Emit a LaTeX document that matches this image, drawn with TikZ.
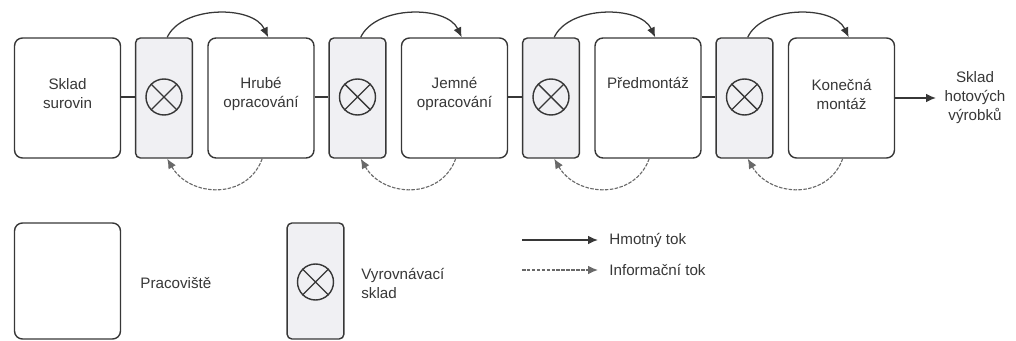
\documentclass[tikz,border=0pt]{standalone}
\usepackage{fontspec}
\setmainfont{Liberation Sans}
\usepackage{tikz}
\usetikzlibrary{arrows.meta,positioning,shapes.geometric}
\definecolor{linegray}{RGB}{55,55,55}
\definecolor{buffill}{RGB}{240,240,243}

\begin{document}
\begin{tikzpicture}[x=0.25cm, y=-0.25cm, line width=1pt, draw=linegray,
    every node/.style={font=\fontsize{10.8}{13.5}\selectfont, text=linegray},
    stage/.style={draw=linegray, rounded corners=0.2cm, minimum width=2.65cm, minimum height=3cm, inner sep=0pt},
    buffer/.style={draw=linegray, fill=buffill, rounded corners=0.12cm, minimum width=1.42cm, minimum height=3cm, inner sep=0pt},
    valve/.style={draw=linegray, circle, minimum size=0.9cm, inner sep=0pt},
    flow/.style={draw=linegray, line width=0.9pt, -{Latex[length=7pt, width=6pt]}},
    info/.style={draw=linegray!75, line width=0.8pt, dash pattern=on 2.5pt off 1pt, -{Latex[length=7pt, width=6pt]}}]
      \useasboundingbox (0, 0) rectangle (101.6, 34.1);

      % stations
      \node[stage] (suroviny) at (6.75, 9.8) {};
      \node[stage] (hrube) at (26.1, 9.8) {};
      \node[stage] (jemne) at (45.45, 9.8) {};
      \node[stage] (predmontaz) at (64.8, 9.8) {};
      \node[stage] (konecna) at (84.15, 9.8) {};

      \node[align=center] at (6.75, 9.4) {Sklad\\surovin};
      \node[align=center] at (26.1, 9.4) {Hrubé\\opracování};
      \node[align=center] at (45.45, 9.4) {Jemné\\opracování};
      \node at (64.8, 8.3) {Předmontáž};
      \node[align=center] at (84.15, 9.4) {Konečná\\montáž};

      % buffers
      \node[buffer] (buf1) at (16.4, 9.8) {};
      \node[buffer] (buf2) at (35.75, 9.8) {};
      \node[buffer] (buf3) at (55.1, 9.8) {};
      \node[buffer] (buf4) at (74.45, 9.8) {};

      \node[valve] (v1) at (16.4, 9.7) {};
      \node[valve] (v2) at (35.75, 9.7) {};
      \node[valve] (v3) at (55.1, 9.7) {};
      \node[valve] (v4) at (74.45, 9.7) {};
      \draw (v1.north west) -- (v1.south east) (v1.north east) -- (v1.south west);
      \draw (v2.north west) -- (v2.south east) (v2.north east) -- (v2.south west);
      \draw (v3.north west) -- (v3.south east) (v3.north east) -- (v3.south west);
      \draw (v4.north west) -- (v4.south east) (v4.north east) -- (v4.south west);

      \draw (suroviny.east |- v1) -- (buf1.west |- v1);
      \draw (hrube.east |- v2) -- (buf2.west |- v2);
      \draw (jemne.east |- v3) -- (buf3.west |- v3);
      \draw (predmontaz.east |- v4) -- (buf4.west |- v4);

      % material flow
      \draw[flow] ([xshift=0.08cm]buf1.north) to[out=65, in=115, looseness=0.9] ([xshift=0.18cm]hrube.north);
      \draw[flow] ([xshift=0.08cm]buf2.north) to[out=65, in=115, looseness=0.9] ([xshift=0.18cm]jemne.north);
      \draw[flow] ([xshift=0.08cm]buf3.north) to[out=65, in=115, looseness=0.9] ([xshift=0.18cm]predmontaz.north);
      \draw[flow] ([xshift=0.08cm]buf4.north) to[out=65, in=115, looseness=0.9] ([xshift=0.18cm]konecna.north);

      % information flow
      \draw[info] ([xshift=0.03cm]hrube.south) to[out=-110, in=-60, looseness=1.2] ([xshift=0.08cm]buf1.south);
      \draw[info] ([xshift=0.03cm]jemne.south) to[out=-110, in=-60, looseness=1.2] ([xshift=0.08cm]buf2.south);
      \draw[info] ([xshift=0.03cm]predmontaz.south) to[out=-110, in=-60, looseness=1.2] ([xshift=0.08cm]buf3.south);
      \draw[info] ([xshift=0.03cm]konecna.south) to[out=-110, in=-60, looseness=1.2] ([xshift=0.08cm]buf4.south);

      \node[align=center] (hotove) at (97.5, 9.8) {Sklad\\hotových\\výrobků};
      \draw[flow] (konecna.east |- hotove) -- ([xshift=-0.08cm]hotove.west);

      % legend
      \node[stage, minimum height=2.9cm] (legstage) at (6.75, 28.1) {};
      \node[anchor=west] (legstagetext) at (13.5, 28.3) {Pracoviště};
      \node[buffer, minimum height=2.9cm] (legbuf) at (31.55, 28.1) {};
      \node[valve] (legv) at (31.55, 28.2) {};
      \draw (legv.north west) -- (legv.south east) (legv.north east) -- (legv.south west);
      \node[anchor=west, align=left] (legbuftext) at (35.6, 28.3) {Vyrovnávací\\sklad};

      \coordinate (hm1) at (52.2, 24);
      \coordinate (hm2) at (59.8, 24);
      \coordinate (in1) at (52.2, 27);
      \coordinate (in2) at (59.8, 27);
      \draw[flow] (hm1) -- (hm2);
      \draw[info] (in1) -- (in2);
      \node[anchor=west] (hmtext) at (60.4, 24) {Hmotný tok};
      \node[anchor=west] (intext) at (60.4, 27) {Informační tok};

    \end{tikzpicture}
\end{document}
